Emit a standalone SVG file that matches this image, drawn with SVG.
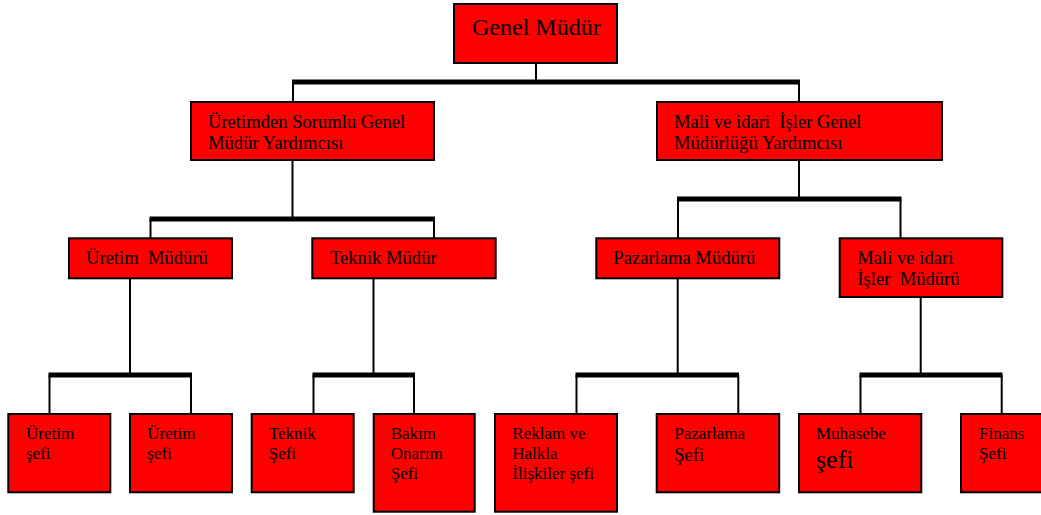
<svg xmlns="http://www.w3.org/2000/svg" width="1041" height="515" viewBox="0 0 1041 515">
<style>
.box{fill:#ff0000;stroke:#000;stroke-width:2}
.t{font-family:"Liberation Serif","Times New Roman",serif;fill:#000;white-space:pre}
.l2{font-size:18.6px}
.l4{font-size:17px}
.ln{stroke:#000;stroke-width:2;fill:none}
.bar{fill:#000}
</style>
<rect width="1041" height="515" fill="#fff"/>
<g id="connectors">
<line class="ln" x1="536" y1="63" x2="536" y2="81"/>
<rect class="bar" x="292" y="79.5" width="508" height="5"/>
<line class="ln" x1="293" y1="82" x2="293" y2="102"/>
<line class="ln" x1="799" y1="82" x2="799" y2="102"/>
<line class="ln" x1="292.5" y1="160" x2="292.5" y2="219"/>
<rect class="bar" x="149.5" y="216.5" width="285.5" height="5"/>
<line class="ln" x1="150.5" y1="219" x2="150.5" y2="238"/>
<line class="ln" x1="434" y1="219" x2="434" y2="238"/>
<line class="ln" x1="799" y1="160" x2="799" y2="199"/>
<rect class="bar" x="677" y="196.5" width="224.5" height="5"/>
<line class="ln" x1="678" y1="199" x2="678" y2="238"/>
<line class="ln" x1="900.5" y1="199" x2="900.5" y2="238"/>
<line class="ln" x1="130" y1="278" x2="130" y2="375"/>
<rect class="bar" x="48.5" y="372.5" width="143.5" height="5"/>
<line class="ln" x1="49.5" y1="375" x2="49.5" y2="414"/>
<line class="ln" x1="191" y1="375" x2="191" y2="414"/>
<line class="ln" x1="373.5" y1="278" x2="373.5" y2="375"/>
<rect class="bar" x="312.5" y="372.5" width="102.5" height="5"/>
<line class="ln" x1="313.5" y1="375" x2="313.5" y2="414"/>
<line class="ln" x1="414" y1="375" x2="414" y2="414"/>
<line class="ln" x1="677.7" y1="278" x2="677.7" y2="375"/>
<rect class="bar" x="575.5" y="372.5" width="163.5" height="5"/>
<line class="ln" x1="576.5" y1="375" x2="576.5" y2="414"/>
<line class="ln" x1="738.3" y1="375" x2="738.3" y2="414"/>
<line class="ln" x1="920.7" y1="297" x2="920.7" y2="375"/>
<rect class="bar" x="859.5" y="372.5" width="143" height="5"/>
<line class="ln" x1="860.5" y1="375" x2="860.5" y2="414"/>
<line class="ln" x1="1001.7" y1="375" x2="1001.7" y2="414"/>
</g>
<g id="genel-mudur">
<rect class="box" x="454" y="4" width="163" height="59"/>
<text class="t" x="472" y="35" font-size="24">Genel Müdür</text>
</g>
<g id="uretim-gmy">
<rect class="box" x="191" y="102" width="243" height="58"/>
<text class="t l2" x="208" y="128">Üretimden Sorumlu Genel</text>
<text class="t l2" x="208" y="148.5">Müdür Yardımcısı</text>
</g>
<g id="mali-gmy">
<rect class="box" x="657" y="102" width="285" height="58"/>
<text class="t l2" x="674" y="128">Mali ve idari  İşler Genel</text>
<text class="t l2" x="674" y="148.5">Müdürlüğü Yardımcısı</text>
</g>
<g id="uretim-muduru">
<rect class="box" x="69" y="238.3" width="163" height="40"/>
<text class="t l2" x="86" y="264">Üretim  Müdürü</text>
</g>
<g id="teknik-mudur">
<rect class="box" x="312.3" y="238.3" width="183.4" height="40"/>
<text class="t l2" x="330" y="264">Teknik Müdür</text>
</g>
<g id="pazarlama-muduru">
<rect class="box" x="596.3" y="238.3" width="183" height="40"/>
<text class="t l2" x="613.3" y="264">Pazarlama Müdürü</text>
</g>
<g id="mali-muduru">
<rect class="box" x="839.7" y="238.3" width="162.6" height="58.7"/>
<text class="t l2" x="857.3" y="264">Mali ve idari</text>
<text class="t l2" x="857.3" y="285">İşler  Müdürü</text>
</g>
<g id="uretim-sefi-1">
<rect class="box" x="8.3" y="414" width="102" height="78.3"/>
<text class="t l4" x="26" y="439">Üretim</text>
<text class="t l4" x="26" y="459">şefi</text>
</g>
<g id="uretim-sefi-2">
<rect class="box" x="130" y="414" width="102" height="78.3"/>
<text class="t l4" x="147.3" y="439">Üretim</text>
<text class="t l4" x="147.3" y="459">şefi</text>
</g>
<g id="teknik-sefi">
<rect class="box" x="251.7" y="414" width="102" height="78.3"/>
<text class="t l4" x="268.7" y="439">Teknik</text>
<text class="t l4" x="268.7" y="459">Şefi</text>
</g>
<g id="bakim-onarim-sefi">
<rect class="box" x="373.7" y="414" width="101" height="97.7"/>
<text class="t l4" x="390.7" y="439">Bakım</text>
<text class="t l4" x="390.7" y="459">Onarım</text>
<text class="t l4" x="390.7" y="478.5">Şefi</text>
</g>
<g id="reklam-sefi">
<rect class="box" x="495" y="414" width="122" height="97.7"/>
<text class="t l4" x="512.3" y="439">Reklam ve</text>
<text class="t l4" x="512.3" y="459">Halkla</text>
<text class="t l4" x="512.3" y="478.5">İlişkiler şefi</text>
</g>
<g id="pazarlama-sefi">
<rect class="box" x="656.7" y="414" width="122.5" height="78.3"/>
<text class="t l4" x="674.3" y="439">Pazarlama</text>
<text class="t" x="674.3" y="460.5" font-size="18.5">Şefi</text>
</g>
<g id="muhasebe-sefi">
<rect class="box" x="799" y="414" width="122.3" height="78.3"/>
<text class="t l4" x="816" y="439">Muhasebe</text>
<text class="t" x="816" y="468" font-size="26">şefi</text>
</g>
<g id="finans-sefi">
<rect class="box" x="961" y="414" width="90" height="78.3"/>
<text class="t l4" x="979" y="439">Finans</text>
<text class="t l4" x="979" y="458.5">Şefi</text>
</g>
</svg>
